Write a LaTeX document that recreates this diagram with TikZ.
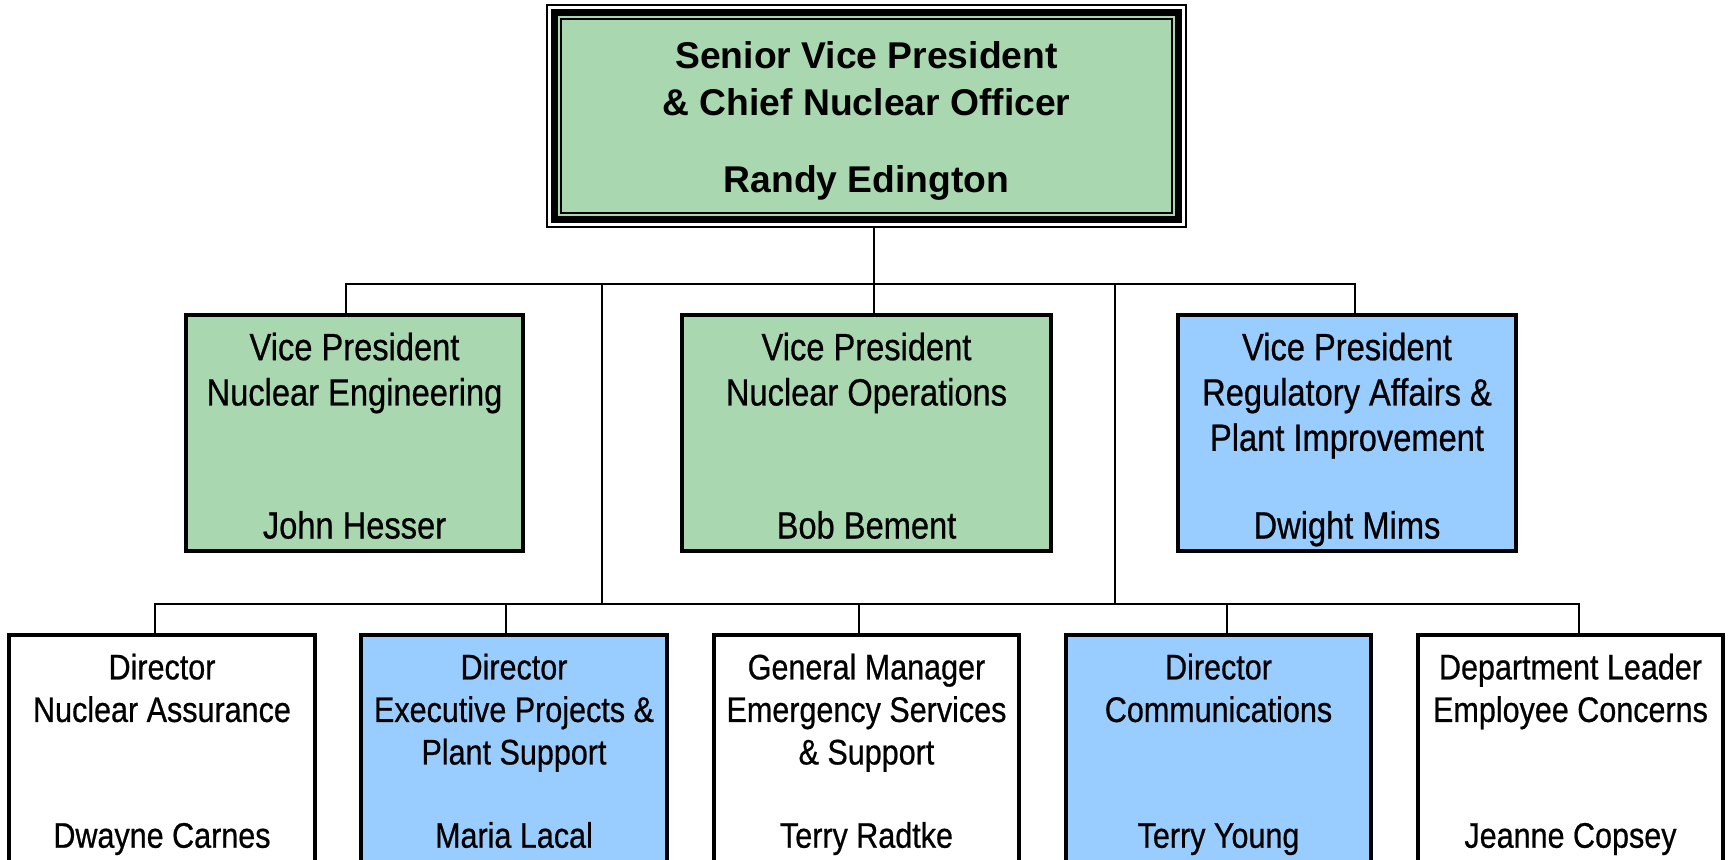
\documentclass[tikz,border=0pt]{standalone}
\usepackage{fontspec}
\setmainfont{Liberation Sans}
\newfontfamily\narrowsf{Liberation Sans}[FakeStretch=0.86,FakeBold=0.6]
\usetikzlibrary{positioning}

\definecolor{vpgreen}{RGB}{169,216,176}
\definecolor{vpblue}{RGB}{153,204,255}

\tikzset{
  orgbox/.style={draw=black, line width=0.038cm, anchor=north, inner sep=0pt, outer sep=0pt},
  vpbox/.style={orgbox, minimum height=2.36cm, fill=vpgreen},
  dirbox/.style={orgbox, minimum width=3.05cm, minimum height=3cm, fill=white},
  svptext/.style={anchor=north, inner sep=0pt, align=center, font=\bfseries\fontsize{10.6}{13.2}\selectfont},
  svpname/.style={anchor=base, inner sep=0pt, font=\bfseries\fontsize{10.6}{13.2}\selectfont},
  vptext/.style={anchor=north, inner sep=0pt, align=center, font=\narrowsf\fontsize{10.8}{12.9}\selectfont},
  vpname/.style={anchor=base, inner sep=0pt, font=\narrowsf\fontsize{10.8}{12.9}\selectfont},
  dirtext/.style={anchor=north, inner sep=0pt, align=center, font=\narrowsf\fontsize{10.1}{12.1}\selectfont},
  dirname/.style={anchor=base, inner sep=0pt, font=\narrowsf\fontsize{10.1}{12.1}\selectfont},
  wire/.style={line width=0.022cm}
}

\begin{document}
\begin{tikzpicture}
  \useasboundingbox (0,0) rectangle (17.29,-8.59);
  \clip (0,0) rectangle (17.29,-8.59);

  % chief nuclear officer
  \node[draw=black, line width=0.02cm, inner sep=0pt, outer sep=0pt, minimum width=6.39cm, minimum height=2.22cm] (svp) at (8.665,-1.16) {};
  \draw[line width=0.065cm, fill=vpgreen] ([shift={(0.075,-0.075)}]svp.north west) rectangle ([shift={(-0.075,0.075)}]svp.south east);
  \draw[line width=0.02cm] ([shift={(0.14,-0.14)}]svp.north west) rectangle ([shift={(-0.14,0.14)}]svp.south east);
  \node[svptext] (svptitle) at ([yshift=-0.3075cm]svp.north) {\strut Senior Vice President\\\& Chief Nuclear Officer};
  \node[svpname] (svpname) at ([yshift=-1.87cm]svp.north) {Randy Edington};

  % vice presidents
  \node[vpbox, minimum width=3.37cm] (eng) at (3.545,-3.15) {};
  \node[vptext] (engtitle) at ([yshift=-0.127cm]eng.north) {\strut Vice President\\Nuclear Engineering};
  \node[vpname] (engname) at ([yshift=-2.235cm]eng.north) {John Hesser};

  \node[vpbox, minimum width=3.69cm] (ops) at (8.665,-3.15) {};
  \node[vptext] (opstitle) at ([yshift=-0.127cm]ops.north) {\strut Vice President\\Nuclear Operations};
  \node[vpname] (opsname) at ([yshift=-2.235cm]ops.north) {Bob Bement};

  \node[vpbox, minimum width=3.38cm, fill=vpblue] (reg) at (13.47,-3.15) {};
  \node[vptext] (regtitle) at ([yshift=-0.127cm]reg.north) {\strut Vice President\\Regulatory Affairs \&\\Plant Improvement};
  \node[vpname] (regname) at ([yshift=-2.235cm]reg.north) {Dwight Mims};

  % directors
  \node[dirbox, minimum width=3.06cm] (nas) at (1.62,-6.35) {};
  \node[dirtext] (nastitle) at ([yshift=-0.139cm]nas.north) {\strut Director\\Nuclear Assurance};
  \node[dirname] (nasname) at ([yshift=-2.127cm]nas.north) {Dwayne Carnes};

  \node[dirbox, minimum width=3.06cm, fill=vpblue] (exe) at (5.14,-6.35) {};
  \node[dirtext] (exetitle) at ([yshift=-0.139cm]exe.north) {\strut Director\\Executive Projects \&\\Plant Support};
  \node[dirname] (exename) at ([yshift=-2.127cm]exe.north) {Maria Lacal};

  \node[dirbox] (ems) at (8.665,-6.35) {};
  \node[dirtext] (emstitle) at ([yshift=-0.139cm]ems.north) {\strut General Manager\\Emergency Services\\\& Support};
  \node[dirname] (emsname) at ([yshift=-2.127cm]ems.north) {Terry Radtke};

  \node[dirbox, fill=vpblue] (com) at (12.185,-6.35) {};
  \node[dirtext] (comtitle) at ([yshift=-0.139cm]com.north) {\strut Director\\Communications};
  \node[dirname] (comname) at ([yshift=-2.127cm]com.north) {Terry Young};

  \node[dirbox] (emp) at (15.705,-6.35) {};
  \node[dirtext] (emptitle) at ([yshift=-0.139cm]emp.north) {\strut Department Leader\\Employee Concerns};
  \node[dirname] (empname) at ([yshift=-2.127cm]emp.north) {Jeanne Copsey};

  % bus points
  \coordinate (b1e) at (3.46,-2.84);
  \coordinate (b1o) at (8.74,-2.84);
  \coordinate (b1r) at (13.55,-2.84);
  \coordinate (b1a) at (6.02,-2.84);
  \coordinate (b1b) at (11.15,-2.84);
  \coordinate (b2n) at (1.55,-6.04);
  \coordinate (b2x) at (5.06,-6.04);
  \coordinate (b2s) at (8.59,-6.04);
  \coordinate (b2c) at (12.27,-6.04);
  \coordinate (b2p) at (15.79,-6.04);

  \draw[wire] (b1e |- eng.north) -- (b1e) -- (b1r) -- (b1r |- reg.north);
  \draw[wire] (b1o |- svp.south) -- (b1o |- ops.north);
  \draw[wire] (b1a) -- (b1a |- b2n);
  \draw[wire] (b1b) -- (b1b |- b2n);
  \draw[wire] (b2n |- nas.north) -- (b2n) -- (b2p) -- (b2p |- emp.north);
  \draw[wire] (b2x) -- (b2x |- exe.north);
  \draw[wire] (b2s) -- (b2s |- ems.north);
  \draw[wire] (b2c) -- (b2c |- com.north);
\end{tikzpicture}
\end{document}
